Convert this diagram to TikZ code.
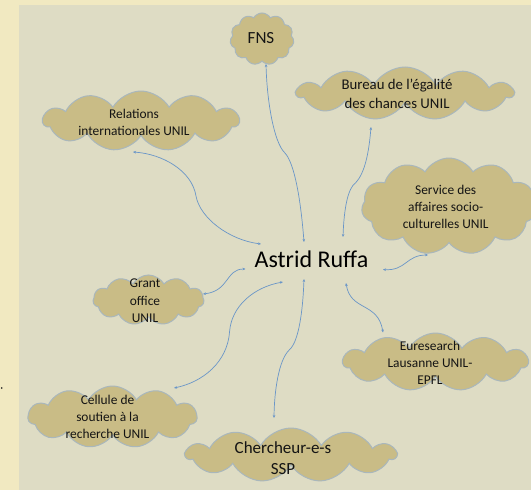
\documentclass[tikz,border=0pt]{standalone}
\usepackage{fontspec}
\setmainfont{Carlito}
\usetikzlibrary{shapes.symbols,arrows.meta}

\definecolor{paper}{HTML}{F1E9C1}
\definecolor{panel}{HTML}{DEDCC4}
\definecolor{puff}{HTML}{C9BC86}
\definecolor{puffline}{HTML}{A9B7BC}
\definecolor{linkblue}{HTML}{6A96C8}
\definecolor{ink}{HTML}{141414}

\tikzset{
	cloudbox/.style={cloud, cloud puffs=11, cloud puff arc=120, cloud ignores aspect,
		draw=puffline, line width=1pt, fill=puff, inner sep=0pt},
	cloudtext/.style={align=center, text=ink, font=\fontsize{13.4}{17}\selectfont},
	link/.style={{Stealth[length=3pt,width=2.6pt]}-{Stealth[length=3pt,width=2.6pt]}, linkblue, line width=0.7pt}
}

\begin{document}
\begin{tikzpicture}[x=1pt,y=-1pt]

	\useasboundingbox (0,0) rectangle (531,490);
	\fill[paper]	(0,0) rectangle (531,490);
	\fill[panel]	(19,5) rectangle (531,490);
	\fill[ink]	(1.8,388) circle (0.9);

	\node 	(ar)	at	(311.5,259.5) 	[text=black, font=\fontsize{24}{28}\selectfont]{Astrid Ruffa};

	\node 	(c1)	at	(262,39) 	[cloudbox, minimum width=64pt, minimum height=52pt,
		label={[cloudtext, font=\fontsize{17}{20}\selectfont, xshift=-1pt, yshift=0.5pt]center:FNS}]{};

	\node 	(c2)	at	(405,93.5) 	[cloudbox, minimum width=216pt, minimum height=53pt,
		label={[cloudtext, font=\fontsize{14.8}{19}\selectfont, xshift=-8pt]center:Bureau de l’égalité\\des chances UNIL}]{};

	\node 	(c3)	at	(141,121) 	[cloudbox, minimum width=196pt, minimum height=60pt,
		label={[cloudtext, xshift=-7pt, yshift=-1pt]center:Relations\\internationales UNIL}]{};

	\node 	(c4)	at	(449,206.5) 	[cloudbox, minimum width=175pt, minimum height=97pt,
		label={[cloudtext, xshift=-3.3pt]center:Service des\\affaires socio-\\culturelles UNIL}]{};

	\node 	(c5)	at	(148.5,300) 	[cloudbox, minimum width=111pt, minimum height=50pt,
		label={[cloudtext, font=\fontsize{13.4}{17.5}\selectfont, xshift=-3.5pt, yshift=-0.7pt]center:Grant\\office\\UNIL}]{};

	\node 	(c6)	at	(435.5,362) 	[cloudbox, minimum width=185pt, minimum height=58pt,
		label={[cloudtext, xshift=-5.5pt, yshift=-0.5pt]center:Euresearch\\Lausanne UNIL-\\EPFL}]{};

	\node 	(c7)	at	(112.5,417) 	[cloudbox, minimum width=169pt, minimum height=62pt,
		label={[cloudtext, font=\fontsize{13.4}{16.7}\selectfont, xshift=-5pt]center:Cellule de\\soutien à la\\recherche UNIL}]{};

	\node 	(c8)	at	(291,455) 	[cloudbox, minimum width=210pt, minimum height=54pt,
		label={[cloudtext, font=\fontsize{17}{20.5}\selectfont, xshift=-8pt, yshift=-3pt]center:Chercheur-e-s\\SSP}]{};

	% ends of the links, next to the name and next to each cloud
	\coordinate	(s1)	at	(304,242);	\coordinate	(t1)	at	(266,64);
	\coordinate	(s2)	at	(343,237);	\coordinate	(t2)	at	(371,127);
	\coordinate	(s3)	at	(261,244);	\coordinate	(t3)	at	(133,152);
	\coordinate	(s4)	at	(383,269.5);	\coordinate	(t4)	at	(428,255);
	\coordinate	(s5)	at	(245.5,269);	\coordinate	(t5)	at	(203,294);
	\coordinate	(s6)	at	(346,283);	\coordinate	(t6)	at	(383,332.5);
	\coordinate	(s7)	at	(283,282);	\coordinate	(t7)	at	(174,388);
	\coordinate	(s8)	at	(304,279);	\coordinate	(t8)	at	(274,418);

	\draw[link]	(s1)	.. controls (301,203) and (295,163) .. (284.5,152.5) .. controls (274,142) and (267,102) ..	(t1);
	\draw[link]	(s2)	.. controls (344,208) and (348,188) .. (355.5,183) .. controls (365,173) and (369,152) ..	(t2);
	\draw[link]	(s3)	.. controls (229,240) and (200,218) .. (196,196) .. controls (192,171) and (163,154) ..	(t3);
	\draw[link]	(s4)	.. controls (406,271) and (406,255) ..	(t4);
	\draw[link]	(s5)	.. controls (225.5,269) and (229.5,291) ..	(t5);
	\draw[link]	(s6)	.. controls (350.5,311.5) and (378,301.6) ..	(t6);
	\draw[link]	(s7)	.. controls (254,287) and (231.6,306) .. (229.6,331.4) .. controls (227.6,362) and (203,382) ..	(t7);
	\draw[link]	(s8)	.. controls (302.8,311.5) and (298.7,341.6) .. (289.5,349.7) .. controls (278.4,359.9) and (274.3,392.4) ..	(t8);

\end{tikzpicture}
\end{document}
